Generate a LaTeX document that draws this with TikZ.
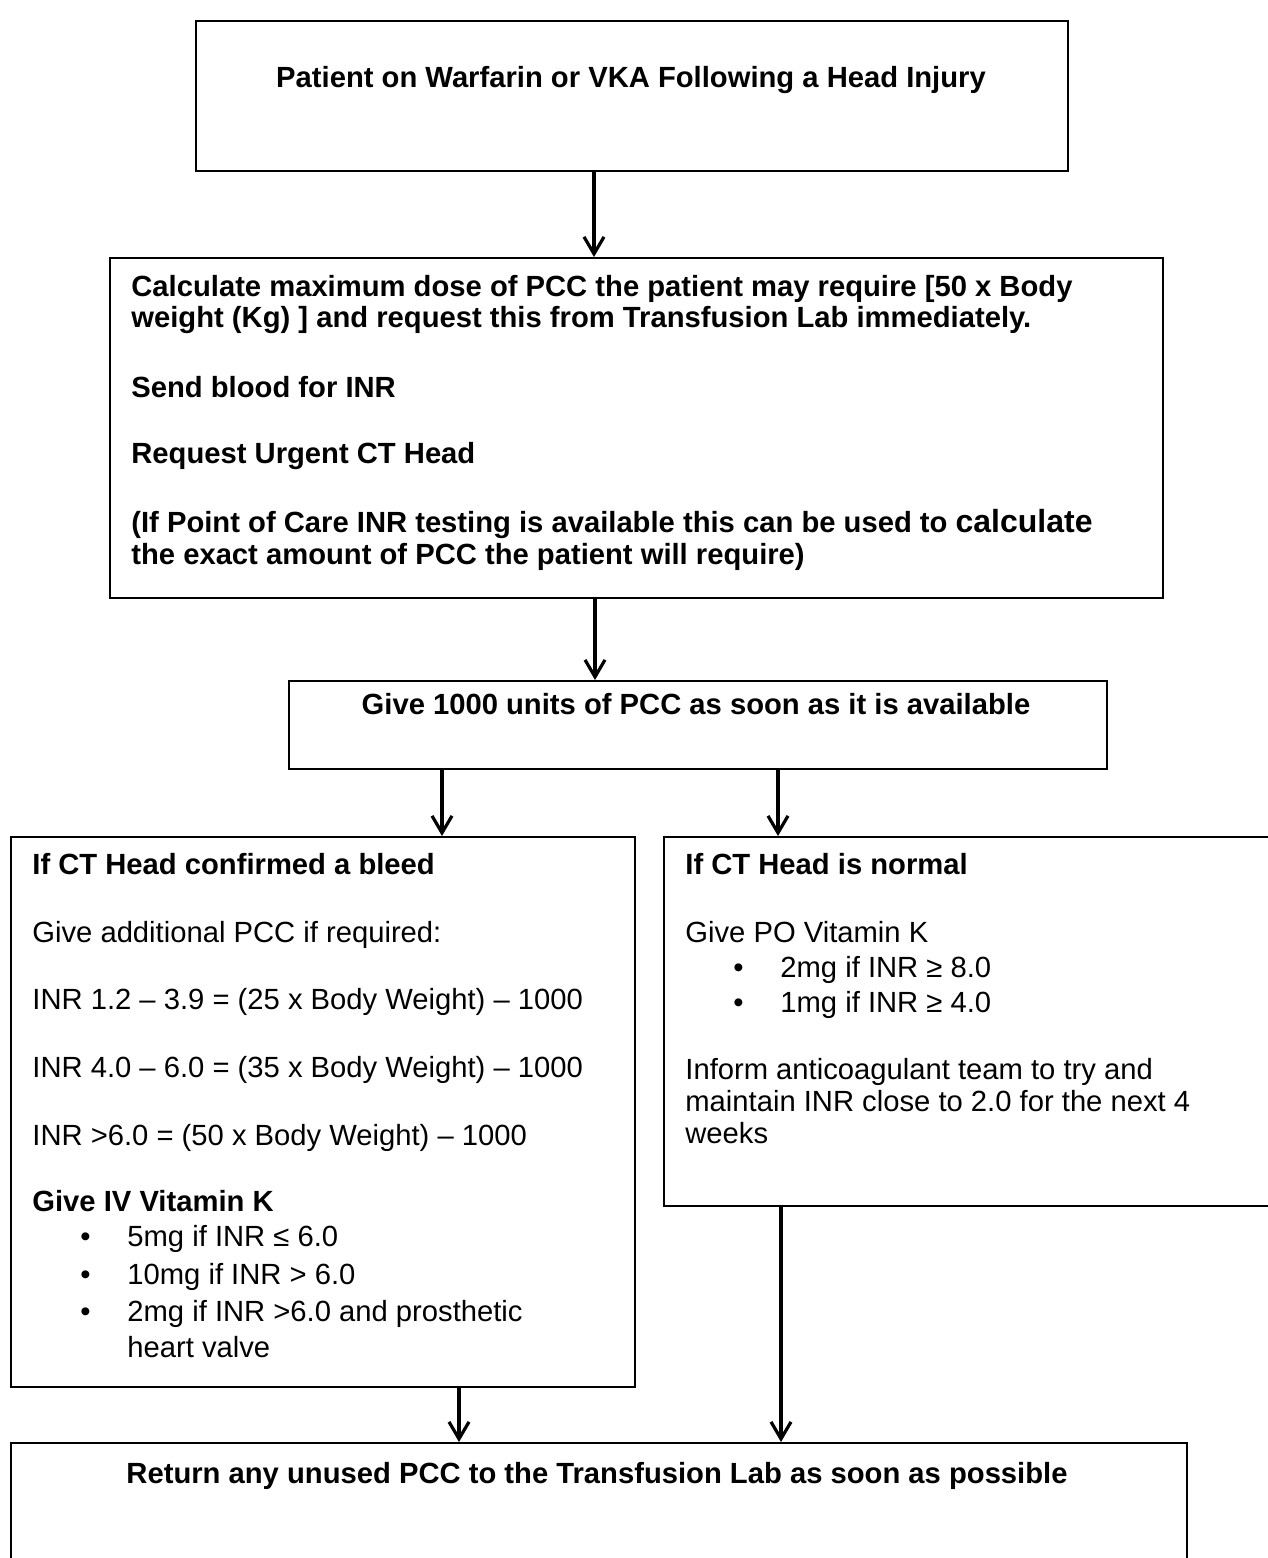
\documentclass[tikz,border=0pt]{standalone}
\usepackage{fontspec}
\setmainfont{Liberation Sans}
\usetikzlibrary{arrows.meta}
\newcommand{\bitem}[1]{\hspace*{24pt}\makebox[23.5pt][l]{\textbullet}#1}

\begin{document}
\begin{tikzpicture}[x=0.5pt,y=-0.5pt,>={Straight Barb[length=8.5pt,width=10pt]},
	box/.style={draw,line width=0.9pt,inner sep=0pt,anchor=north west},
	txt/.style={inner sep=0pt,anchor=base west,align=flush left,text width=560pt,font=\fontsize{14.6}{17}\selectfont},
	hd/.style={inner sep=0pt,anchor=base,font=\fontsize{14.6}{17}\selectfont\bfseries},
	arr/.style={->,line width=1.6pt}]

\useasboundingbox (0,0) rectangle (1268,1558);

\node[box,minimum width=436pt,minimum height=75pt]	(start)	at (195,20)	{};
\node[box,minimum width=526.5pt,minimum height=170pt]	(calc)	at (109,257)	{};
\node[box,minimum width=409pt,minimum height=44pt]	(pcc)	at (288,680)	{};
\node[box,minimum width=312pt,minimum height=275pt]	(bleed)	at (10,836)	{};
\node[box,minimum width=320pt,minimum height=184.5pt]	(normal)	at (663,836)	{};
\node[box,minimum width=588pt,minimum height=80pt]	(ret)	at (10,1442)	{};

\node[hd] (start-t) at (631,87) {Patient on Warfarin or VKA Following a Head Injury};
\node[txt,font=\fontsize{14.6}{15.5}\selectfont\bfseries] (calc-t) at (131,296)
	{Calculate maximum dose of PCC the patient may require [50 x Body\\
	weight (Kg) ] and request this from Transfusion Lab immediately.\\[19.5pt]
	Send blood for INR\\[17.5pt]
	Request Urgent CT Head\\[19pt]
	(If Point of Care INR testing is available this can be used to {\fontsize{16}{15.5}\selectfont calculate}\\[0.5pt]
	the exact amount of PCC the patient will require)};
\node[hd] (pcc-t) at (696,714) {Give 1000 units of PCC as soon as it is available};
\node[txt] (bleed-t) at (32,874)
	{\textbf{If CT Head confirmed a bleed}\\[17pt]
	Give additional PCC if required:\\[16.5pt]
	INR 1.2 – 3.9 = (25 x Body Weight) – 1000\\[17pt]
	INR 4.0 – 6.0 = (35 x Body Weight) – 1000\\[17pt]
	INR >6.0 = (50 x Body Weight) – 1000\\[16pt]
	\textbf{Give IV Vitamin K}\\[0.5pt]
	\bitem{5mg if INR ≤ 6.0}\\[2pt]
	\bitem{10mg if INR > 6.0}\\[1.5pt]
	\bitem{2mg if INR >6.0 and prosthetic}\\[1pt]
	\hspace*{47.5pt}heart valve};
\node[txt] (normal-t) at (685,874)
	{\textbf{If CT Head is normal}\\[17pt]
	Give PO Vitamin K\\[0.5pt]
	\bitem{2mg if INR ≥ 8.0}\\[0.5pt]
	\bitem{1mg if INR ≥ 4.0}\\[16.5pt]
	Inform anticoagulant team to try and\\[-1pt]
	maintain INR close to 2.0 for the next 4\\[-1pt]
	weeks};
\node[hd] (ret-t) at (597,1483) {Return any unused PCC to the Transfusion Lab as soon as possible};

\draw[arr] (594,0 |- start.south) -- (594,0 |- calc.north);
\draw[arr] (595,0 |- calc.south) -- (595,0 |- pcc.north);
\draw[arr] (442,0 |- pcc.south) -- (442,0 |- bleed.north);
\draw[arr] (778,0 |- pcc.south) -- (778,0 |- normal.north);
\draw[arr] (459,0 |- bleed.south) -- (459,0 |- ret.north);
\draw[arr] (781,0 |- normal.south) -- (781,0 |- ret.north);
\end{tikzpicture}
\end{document}
